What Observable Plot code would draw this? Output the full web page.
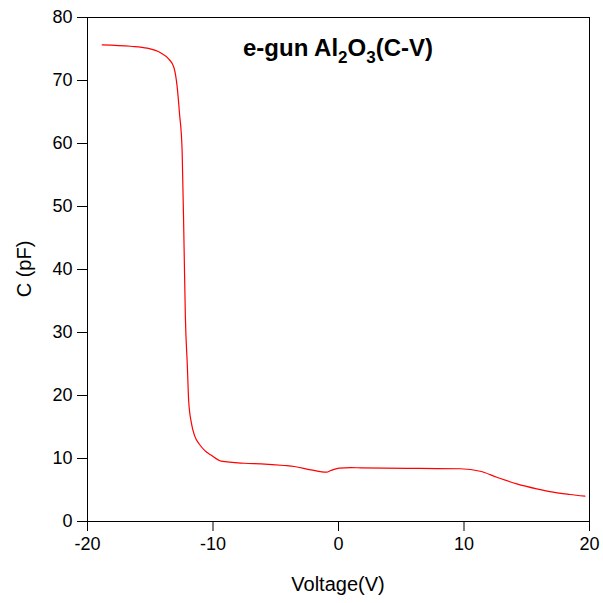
<!DOCTYPE html>
<html>
<head>
<meta charset="utf-8">
<script src="https://cdn.jsdelivr.net/npm/d3@7"></script>
<script src="https://cdn.jsdelivr.net/npm/@observablehq/plot@0.6"></script>
<style>
body { margin: 0; background: #fff; }
</style>
</head>
<body>
<div id="chart"></div>
<script>
const voltage = [-18.83, -16.57, -15.24, -14.18, -13.52, -13.12, -12.85, -12.67, -12.46, -12.3, -12.2, -12.04, -11.94, -11.72, -11.46, -11.1, -10.67, -10.13, -9.34, -7.49, -6.17, -4.32, -3.52, -2.2, -0.95, -0.61, 0.05, 0.98, 1.77, 3.62, 6.5, 9.71, 11.29, 12.62, 14.21, 15.79, 17.11, 18.44, 19.63];
const capacitance = [75.67, 75.44, 75.13, 74.4, 73.4, 72.1, 68.9, 64.8, 58.9, 43.0, 32.4, 24.5, 19.2, 15.6, 13.6, 12.3, 11.3, 10.5, 9.57, 9.25, 9.16, 8.89, 8.73, 8.2, 7.83, 8.1, 8.46, 8.55, 8.52, 8.46, 8.42, 8.37, 7.98, 7.03, 5.98, 5.19, 4.65, 4.29, 4.02];
const xTicks = [-20, -10, 0, 10, 20];
const yTicks = [0, 10, 20, 30, 40, 50, 60, 70, 80];
const xLabel = "Voltage(V)";
const yLabel = "C (pF)";

const data = voltage.map((v, i) => ({v, c: capacitance[i]}));
const font = "'Liberation Sans', Arial, sans-serif";

const plot = Plot.plot({
  width: 603,
  height: 603,
  marginLeft: 87,
  marginRight: 14,
  marginTop: 17,
  marginBottom: 82,
  style: {fontFamily: font, background: "#fff", color: "#000"},
  x: {domain: [-20, 20]},
  y: {domain: [0, 80]},
  marks: [
    Plot.frame({stroke: "#000", strokeWidth: 1}),
    Plot.axisX({ticks: xTicks, tickFormat: d => String(d), tickSize: 10, tickPadding: 6, fontSize: 18, label: null}),
    Plot.axisY({ticks: yTicks, tickFormat: d => String(d), tickSize: 10, tickPadding: 5, fontSize: 18, label: null}),
    Plot.line(data, {x: "v", y: "c", stroke: "red", strokeWidth: 1.2, curve: "monotone-x"})
  ]
});

document.getElementById("chart").appendChild(plot);

const sx = plot.scale("x");
const sy = plot.scale("y");
const svg = d3.select(plot);

// Axis labels
svg.append("text")
  .attr("x", sx.apply(0))
  .attr("y", 591)
  .attr("text-anchor", "middle")
  .attr("font-family", font)
  .attr("font-size", 20)
  .attr("fill", "#000")
  .text(xLabel);

svg.append("text")
  .attr("transform", `translate(31,${sy.apply(40)}) rotate(-90)`)
  .attr("text-anchor", "middle")
  .attr("font-family", font)
  .attr("font-size", 20)
  .attr("fill", "#000")
  .text(yLabel);

// Title with subscripts
const title = svg.append("text")
  .attr("x", sx.apply(0))
  .attr("y", 56)
  .attr("text-anchor", "middle")
  .attr("font-family", font)
  .attr("font-size", 24)
  .attr("font-weight", "bold")
  .attr("fill", "#000");
title.append("tspan").text("e-gun Al");
title.append("tspan").attr("dy", 7).attr("font-size", 17).text("2");
title.append("tspan").attr("dy", -7).text("O");
title.append("tspan").attr("dy", 7).attr("font-size", 17).text("3");
title.append("tspan").attr("dy", -7).text("(C-V)");
</script>
</body>
</html>
